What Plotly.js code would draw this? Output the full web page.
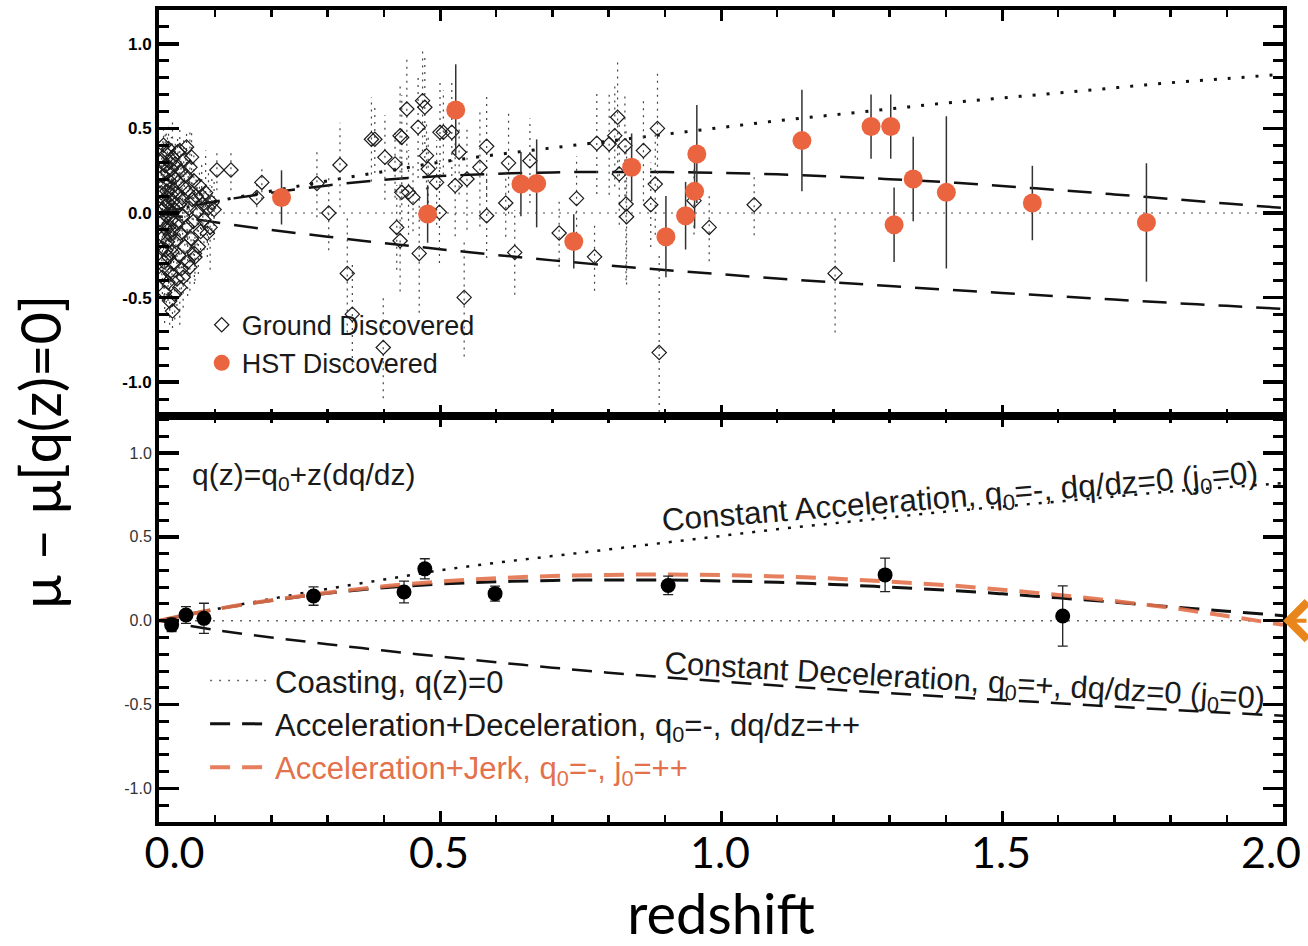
<!DOCTYPE html>
<html>
<head>
<meta charset="utf-8">
<script src="https://cdn.plot.ly/plotly-3.0.1.min.js"></script>
<style>
html,body{margin:0;padding:0;background:#ffffff;}
#chart{width:1308px;height:946px;}
</style>
</head>
<body>
<div id="chart"></div>
<script>
// ---------- data ----------
// Ground-discovered SNe, low redshift (z < 0.1)
const groundLowZ = [0.004,0.005,0.005,0.006,0.006,0.007,0.007,0.008,0.008,0.009,0.009,0.010,0.010,0.011,0.011,0.012,0.012,
  0.013,0.013,0.014,0.014,0.015,0.015,0.016,0.016,0.017,0.017,0.018,0.018,0.019,0.019,0.020,0.020,0.021,0.021,0.022,0.022,0.023,0.023,0.024,0.024,0.025,0.025,
  0.026,0.027,0.028,0.028,0.029,0.030,0.031,0.032,0.033,0.033,0.034,0.035,0.036,0.037,0.037,0.038,0.039,0.040,0.041,0.042,0.043,0.044,0.045,
  0.046,0.048,0.049,0.050,0.051,0.052,0.054,0.055,0.055,0.057,0.058,0.059,0.061,0.062,0.063,0.064,0.066,0.068,0.070,
  0.072,0.074,0.076,0.078,0.080,0.083,0.086,0.088,0.091,0.094,0.098];
const groundLowMu = [0.12,-0.21,0.31,-0.05,-0.38,0.22,0.02,-0.14,0.40,-0.29,0.08,-0.47,0.17,-0.09,0.28,-0.22,0.04,
  0.35,-0.33,-0.02,0.13,-0.17,0.24,-0.41,0.06,0.38,-0.26,-0.08,0.19,-0.52,0.30,0.01,-0.13,0.11,-0.36,0.26,-0.04,-0.23,0.15,0.33,-0.58,-0.10,0.07,
  -0.30,0.21,-0.48,0.02,0.29,-0.16,0.12,-0.39,0.36,-0.06,0.18,-0.25,0.05,0.37,-0.44,-0.12,0.25,-0.33,0.09,-0.02,-0.38,0.31,0.15,
  -0.20,0.22,0.39,-0.08,-0.29,0.12,0.03,-0.32,0.27,-0.15,0.33,0.08,-0.05,0.19,-0.24,-0.26,0.10,0.01,-0.20,
  0.16,-0.11,0.10,0.05,-0.04,0.12,-0.12,0.03,-0.085,0.06,0.02];
const groundLowErr = [0.15,0.20,0.12,0.18,0.14,0.22,0.10,0.16,0.12,0.20,0.15,0.18,0.14,0.12,0.20,0.16,0.10,
  0.14,0.20,0.12,0.18,0.15,0.22,0.11,0.16,0.13,0.20,0.15,0.18,0.14,0.12,0.21,0.16,0.10,0.15,0.19,0.12,0.18,0.14,0.22,0.10,0.16,0.13,
  0.12,0.20,0.15,0.18,0.14,0.12,0.20,0.16,0.10,0.15,0.20,0.12,0.18,0.14,0.22,0.10,0.16,0.12,0.20,0.15,0.18,0.14,0.12,
  0.20,0.16,0.10,0.15,0.20,0.12,0.18,0.14,0.22,0.10,0.16,0.12,0.20,0.15,0.18,0.14,0.12,0.20,0.16,
  0.10,0.15,0.20,0.12,0.18,0.25,0.14,0.22,0.25,0.16,0.18];
// Ground-discovered SNe, z > 0.1
const groundHighZ = [0.103,0.128,0.174,0.183,0.281,0.302,0.322,0.335,0.344,0.378,0.384,0.399,0.402,0.420,0.423,0.429,0.429,0.432,0.441,0.463,
  0.469,0.473,0.461,0.432,0.444,0.452,0.476,0.479,0.494,0.500,0.506,0.521,0.499,0.527,0.534,0.543,0.548,0.571,0.583,0.583,
  0.617,0.622,0.633,0.660,0.712,0.743,0.775,0.779,0.801,0.811,0.816,0.819,0.829,0.831,0.832,0.862,0.875,0.883,0.887,0.890,
  0.952,0.979,1.059,1.203];
const groundHighMu = [0.254,0.254,0.092,0.181,0.175,0.0,0.284,-0.357,-0.598,0.436,0.436,-0.795,0.329,0.29,-0.085,-0.164,0.457,0.447,0.615,-0.239,
  0.664,0.625,0.507,0.122,0.122,0.092,0.339,0.26,0.181,0.477,0.477,0.477,0.004,0.162,0.359,-0.499,0.201,0.27,0.394,-0.016,
  0.059,0.296,-0.233,0.309,-0.118,0.086,-0.259,0.412,0.408,0.457,0.566,0.231,0.398,0.053,-0.022,0.369,0.049,0.171,0.5,-0.825,
  0.073,-0.085,0.049,-0.357];
const groundHighErr = [0.12,0.12,0.1,0.1,0.2,0.22,0.25,0.35,0.3,0.25,0.2,0.3,0.25,0.2,0.25,0.3,0.3,0.25,0.3,0.35,
  0.3,0.3,0.3,0.2,0.25,0.2,0.2,0.2,0.25,0.3,0.25,0.3,0.3,0.3,0.25,0.35,0.3,0.35,0.3,0.25,
  0.2,0.3,0.25,0.25,0.2,0.25,0.2,0.3,0.3,0.3,0.35,0.3,0.3,0.45,0.4,0.3,0.25,0.3,0.35,0.6,
  0.2,0.2,0.18,0.35];

// HST-discovered SNe
const hstZ   = [0.218,0.478,0.528,0.644,0.672,0.738,0.841,0.902,0.937,0.953,0.957,1.144,1.267,1.302,1.342,1.308,1.401,1.554,1.757];
const hstMu  = [0.092,-0.006,0.609,0.171,0.175,-0.168,0.27,-0.14,-0.016,0.128,0.349,0.428,0.511,0.511,0.201,-0.069,0.122,0.059,-0.056];
const hstErr = [0.16,0.17,0.27,0.19,0.26,0.16,0.2,0.24,0.2,0.22,0.29,0.3,0.19,0.19,0.25,0.22,0.45,0.22,0.35];

// Binned data (lower panel)
const binZ   = [0.0225,0.048,0.080,0.275,0.436,0.473,0.598,0.906,1.292,1.608];
const binMu  = [-0.025,0.034,0.014,0.147,0.171,0.309,0.161,0.21,0.273,0.028];
const binErr = [0.04,0.05,0.09,0.055,0.065,0.06,0.045,0.055,0.1,0.18];

// Model curves, read at these redshifts
const modelZ     = [0,0.1,0.2,0.3,0.4,0.5,0.6,0.7,0.8,0.9,1.0,1.1,1.2,1.3,1.4,1.5,1.6,1.7,1.8,1.9,2.0];
const constAccMu = [0,0.068,0.13,0.19,0.245,0.3,0.345,0.385,0.425,0.465,0.505,0.545,0.58,0.615,0.65,0.68,0.71,0.74,0.77,0.795,0.82];
const accDecMu   = [0,0.068,0.12,0.163,0.196,0.218,0.232,0.24,0.243,0.242,0.237,0.229,0.216,0.2,0.182,0.16,0.136,0.11,0.083,0.056,0.03];
const constDecMu = [0,-0.055,-0.1,-0.14,-0.178,-0.214,-0.248,-0.28,-0.31,-0.337,-0.362,-0.387,-0.41,-0.432,-0.453,-0.473,-0.492,-0.512,-0.531,-0.549,-0.567];
const accJerkMu  = [0,0.068,0.122,0.167,0.205,0.233,0.253,0.266,0.273,0.275,0.272,0.264,0.251,0.233,0.212,0.185,0.153,0.117,0.077,0.028,-0.025];
const coastZ  = [0,2];
const coastMu = [0,0];

// Tick labels
const xTickVals = [0,0.5,1.0,1.5,2.0];
const xTickText = ['0.0','0.5','1.0','1.5','2.0'];
const yTickVals = [-1.0,-0.5,0.0,0.5,1.0];
const yTickText = ['-1.0','-0.5','0.0','0.5','1.0'];

// ---------- build traces ----------
const groundZ = groundLowZ.concat(groundHighZ);
const groundMu = groundLowMu.concat(groundHighMu);
const groundErr = groundLowErr.concat(groundHighErr);
const n = Math.min(groundZ.length, groundMu.length, groundErr.length);
const ebX = [], ebY = [];
for (let i = 0; i < n; i++) {
  ebX.push(groundZ[i], groundZ[i], null);
  ebY.push(groundMu[i] - groundErr[i], groundMu[i] + groundErr[i], null);
}

// the slide nudges the end labels inward so they stay on the page:
// all labels are shifted left a little, and padding restores the inner ones
const NB = '\u00a0';
const xTickDisplay = xTickText.map((t, i) =>
  i === 0 ? NB.repeat(5) + t : (i === xTickText.length - 1 ? t : NB + NB + t));

const BLACK = '#111111';
const ORANGE = '#EB6440';
const JERK = '#E2714C';

const traces = [
  // ---- top panel ----
  {x: coastZ, y: coastMu, xaxis: 'x2', yaxis: 'y2', mode: 'lines', showlegend: false, hoverinfo: 'skip',
   line: {color: '#888', width: 1.5, dash: '2px,6px'}},
  {x: modelZ, y: constAccMu, xaxis: 'x2', yaxis: 'y2', mode: 'lines', showlegend: false,
   line: {color: BLACK, width: 3, dash: '3px,11px', shape: 'spline'}},
  {x: modelZ, y: accDecMu, xaxis: 'x2', yaxis: 'y2', mode: 'lines', showlegend: false,
   line: {color: BLACK, width: 2.5, dash: '24px,14px', shape: 'spline'}},
  {x: modelZ, y: constDecMu, xaxis: 'x2', yaxis: 'y2', mode: 'lines', showlegend: false,
   line: {color: BLACK, width: 2.5, dash: '24px,14px', shape: 'spline'}},
  {x: ebX, y: ebY, xaxis: 'x2', yaxis: 'y2', mode: 'lines', showlegend: false, hoverinfo: 'skip',
   line: {color: '#444', width: 1.2, dash: '2px,5px'}},
  {x: groundZ.slice(0, n), y: groundMu.slice(0, n), xaxis: 'x2', yaxis: 'y2', mode: 'markers',
   name: 'Ground Discovered', legend: 'legend',
   marker: {symbol: 'diamond-open', size: 11, color: '#1a1a1a', line: {width: 1.2, color: '#1a1a1a'}}},
  {x: hstZ, y: hstMu, xaxis: 'x2', yaxis: 'y2', mode: 'markers',
   name: 'HST Discovered', legend: 'legend',
   error_y: {type: 'data', array: hstErr, visible: true, color: '#333', thickness: 1.5, width: 0},
   marker: {symbol: 'circle', size: 19, color: ORANGE}},
  // ---- bottom panel ----
  {x: coastZ, y: coastMu, xaxis: 'x', yaxis: 'y', mode: 'lines', name: 'Coasting, q(z)=0', legend: 'legend2',
   line: {color: '#666', width: 1.5, dash: '2px,7px'}},
  {x: modelZ, y: constAccMu, xaxis: 'x', yaxis: 'y', mode: 'lines', showlegend: false,
   line: {color: BLACK, width: 2.5, dash: '3px,9px', shape: 'spline'}},
  {x: modelZ, y: constDecMu, xaxis: 'x', yaxis: 'y', mode: 'lines', showlegend: false,
   line: {color: BLACK, width: 2.5, dash: '20px,12px', shape: 'spline'}},
  {x: modelZ, y: accDecMu, xaxis: 'x', yaxis: 'y', mode: 'lines',
   name: 'Acceleration+Deceleration, q<sub>0</sub>=-, dq/dz=++', legend: 'legend2',
   line: {color: BLACK, width: 3, dash: '20px,12px', shape: 'spline'}},
  {x: modelZ, y: accJerkMu, xaxis: 'x', yaxis: 'y', mode: 'lines',
   name: '<span style="color:' + JERK + '">Acceleration+Jerk, q<sub>0</sub>=-, j<sub>0</sub>=++</span>', legend: 'legend2',
   opacity: 0.9,
   line: {color: JERK, width: 4, dash: '20px,12px', shape: 'spline'}},
  {x: binZ, y: binMu, xaxis: 'x', yaxis: 'y', mode: 'markers', showlegend: false,
   error_y: {type: 'data', array: binErr, visible: true, color: '#222', thickness: 1.3, width: 5},
   marker: {symbol: 'circle', size: 15, color: '#000'}}
];

const frameAxis = {
  showline: true, linewidth: 4, linecolor: '#000', mirror: 'allticks',
  showgrid: false, zeroline: false, ticks: 'inside', tickcolor: '#000'
};

const layout = {
  width: 1308, height: 946,
  margin: {l: 159, r: 25, t: 10, b: 124},
  paper_bgcolor: '#ffffff', plot_bgcolor: '#ffffff',
  font: {family: 'Liberation Sans, Arial, sans-serif', color: '#111'},
  xaxis: Object.assign({}, frameAxis, {
    anchor: 'y', domain: [0, 1], range: [0, 2],
    tickmode: 'array', tickvals: xTickVals, ticktext: xTickDisplay,
    ticklen: 11, tickwidth: 3, ticklabeloverflow: 'allow', ticklabelstandoff: -10, ticklabelshift: -12,
    minor: {tickmode: 'linear', tick0: 0, dtick: 0.1, ticks: 'inside', ticklen: 7, tickwidth: 2.5, tickcolor: '#000'},
    tickfont: {family: 'Lato, Open Sans, sans-serif', size: 43, color: '#000'},
    title: {text: 'redshift', font: {family: 'Lato, Open Sans, sans-serif', size: 56, color: '#000'}, standoff: 26}
  }),
  xaxis2: Object.assign({}, frameAxis, {
    anchor: 'y2', matches: 'x', range: [0, 2], showticklabels: false,
    tickmode: 'array', tickvals: xTickVals,
    ticklen: 11, tickwidth: 3,
    minor: {tickmode: 'linear', tick0: 0, dtick: 0.1, ticks: 'inside', ticklen: 7, tickwidth: 2.5, tickcolor: '#000'}
  }),
  yaxis: Object.assign({}, frameAxis, {
    anchor: 'x', domain: [0, 0.5], range: [-1.2, 1.22],
    tickmode: 'array', tickvals: yTickVals, ticktext: yTickText,
    ticklen: 20, tickwidth: 3.5,
    minor: {tickmode: 'linear', tick0: 0, dtick: 0.1, ticks: 'inside', ticklen: 10, tickwidth: 3, tickcolor: '#000'},
    tickfont: {size: 16, color: '#333'}
  }),
  yaxis2: Object.assign({}, frameAxis, {
    anchor: 'x2', domain: [0.5, 1], range: [-1.2, 1.2],
    tickmode: 'array', tickvals: yTickVals, ticktext: yTickText,
    ticklen: 20, tickwidth: 3.5,
    minor: {tickmode: 'linear', tick0: 0, dtick: 0.1, ticks: 'inside', ticklen: 10, tickwidth: 3, tickcolor: '#000'},
    tickfont: {size: 17, color: '#000', weight: 'bold'}
  }),
  legend: {
    x: 0.038, xanchor: 'left', y: 0.642, yanchor: 'top',
    bgcolor: 'rgba(0,0,0,0)', borderwidth: 0,
    font: {size: 27, color: '#1a1a1a'}, traceorder: 'normal'
  },
  legend2: {
    x: 0.041, xanchor: 'left', y: 0.207, yanchor: 'top',
    bgcolor: 'rgba(0,0,0,0)', borderwidth: 0, itemwidth: 60,
    font: {size: 31, color: '#1a1a1a'}, traceorder: 'normal'
  },
  annotations: [
    {xref: 'x', yref: 'y', x: 0.055, y: 0.86, xanchor: 'left', yanchor: 'middle', showarrow: false,
     text: 'q(z)=q<sub>0</sub>+z(dq/dz)', font: {size: 30, color: '#1a1a1a'}},
    {xref: 'x', yref: 'y', x: 1.425, y: 0.73, xanchor: 'center', yanchor: 'middle', showarrow: false,
     textangle: -4.6,
     text: 'Constant Acceleration, q<sub>0</sub>=-, dq/dz=0 (j<sub>0</sub>=0)', font: {size: 31.5, color: '#1a1a1a'}},
    {xref: 'x', yref: 'y', x: 1.434, y: -0.37, xanchor: 'center', yanchor: 'middle', showarrow: false,
     textangle: 3.4,
     text: 'Constant Deceleration, q<sub>0</sub>=+, dq/dz=0 (j<sub>0</sub>=0)', font: {size: 31, color: '#1a1a1a'}},
    {xref: 'paper', yref: 'paper', x: -0.106, y: 0.4557, xanchor: 'center', yanchor: 'middle', showarrow: false,
     textangle: -90, text: 'μ – μ[q(z)=0]', font: {family: 'Lato, Open Sans, sans-serif', size: 56, color: '#000'}},
    {xref: 'x', yref: 'y', x: 2.0, y: 0, text: '', showarrow: true, ax: 70, ay: 0,
     arrowhead: 4, arrowsize: 1.8, arrowwidth: 4, arrowcolor: '#E8861C', standoff: 0}
  ]
};

Plotly.newPlot('chart', traces, layout, {staticPlot: true, displayModeBar: false});
</script>
</body>
</html>
